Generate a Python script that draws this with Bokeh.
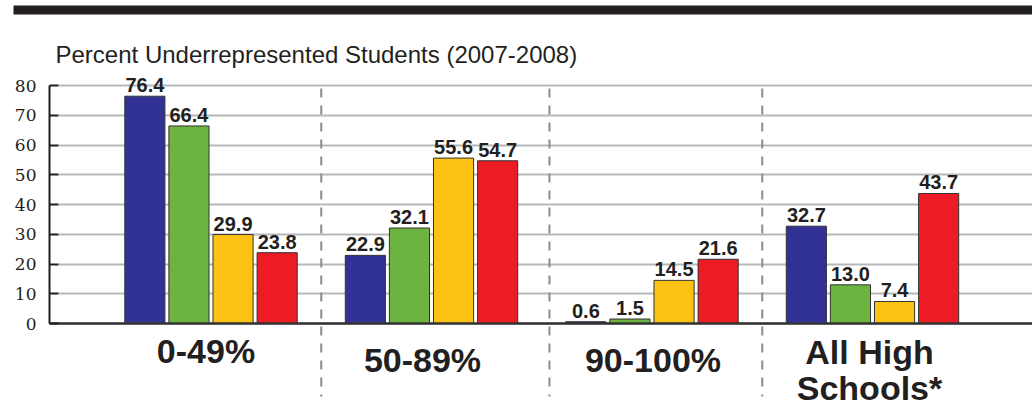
from bokeh.plotting import figure
from bokeh.models import Range1d, BoxAnnotation, Label, ColumnDataSource
from bokeh.transform import dodge
from bokeh.core.properties import value
from bokeh.embed import file_html
from bokeh.resources import INLINE

# ---------------- data ----------------
categories = ["0-49%", "50-89%", "90-100%", "All High\nSchools*"]
series_a = [76.4, 22.9, 0.6, 32.7]
series_b = [66.4, 32.1, 1.5, 13.0]
series_c = [29.9, 55.6, 14.5, 7.4]
series_d = [23.8, 54.7, 21.6, 43.7]
y_ticks = [0, 10, 20, 30, 40, 50, 60, 70, 80]
title_text = "Percent Underrepresented Students (2007-2008)"

# ---------------- layout helpers (picture pixels -> data) ----------------
W, H = 1032, 406
GROUP_PX = 220.5      # pixels per category
GROUP0_X = 210.5      # x of first category centre
ZERO_Y = 323.0        # y of value 0
UNIT_PX = 2.975       # pixels per value unit


def dx(px):
    return (px - GROUP0_X) / GROUP_PX


def dy(py):
    return (ZERO_Y - py) / UNIT_PX


colors = ["#323296", "#6cb33f", "#fcc214", "#ed1c24"]
offsets = [-0.3, -0.1, 0.1, 0.3]
bar_w = 0.182
ink = "#231f20"

series = [series_a, series_b, series_c, series_d]
data = dict(idx=list(range(len(categories))), cat=categories)
for k, s in enumerate(series):
    data[f"s{k}"] = s
    data[f"l{k}"] = [f"{v:.1f}" for v in s]
src = ColumnDataSource(data)

p = figure(width=W, height=H, output_backend="svg", toolbar_location=None,
           x_range=Range1d(dx(0), dx(W)), y_range=Range1d(dy(H), dy(0)),
           x_axis_location=None, y_axis_location="left", min_border=0)
p.outline_line_color = None
p.background_fill_color = "white"
p.border_fill_color = "white"

# y axis drawn at fixed location
ax = p.yaxis[0]
ax.fixed_location = dx(49)
ax.bounds = (0, 80)
ax.ticker = y_ticks
ax.major_tick_in = 9
ax.major_tick_out = 0
ax.minor_tick_line_color = None
ax.axis_line_color = ink
ax.axis_line_width = 2
ax.major_tick_line_color = ink
ax.major_tick_line_width = 2
ax.major_label_text_font = "DejaVu Serif"
ax.major_label_text_font_size = "17px"
ax.major_label_text_color = ink
ax.major_label_standoff = 13

p.xgrid.visible = False
p.ygrid.ticker = y_ticks
p.ygrid.grid_line_color = "#b8b8b8"
p.ygrid.grid_line_width = 2

# white mask so gridlines start after the ticks
p.add_layout(BoxAnnotation(left=dx(0), right=dx(58), top=dy(0), bottom=dy(H),
                           fill_color="white", fill_alpha=1, line_alpha=0, level="underlay"))

# thick rule at top
p.add_layout(BoxAnnotation(left=dx(13), right=dx(W), top=dy(5), bottom=dy(14),
                           fill_color=ink, fill_alpha=1, line_alpha=0, level="underlay"))

# dashed separators
seps = [0.5, 1.535, 2.5]
p.segment(x0=seps, x1=seps, y0=[dy(88)] * 3, y1=[dy(396)] * 3,
          line_color="#8c8c8c", line_width=2, line_dash="9 8")

# bars and value labels
for k in range(4):
    xs = dodge("idx", offsets[k], range=p.x_range)
    p.vbar(x=xs, top=f"s{k}", width=bar_w, source=src,
           fill_color=colors[k], line_color="#333333", line_width=1)
    p.text(x=xs, y=f"s{k}", text=f"l{k}", source=src,
           text_align="center", text_baseline="alphabetic", y_offset=-11,
           text_font=value("Liberation Sans"), text_font_style="bold",
           text_font_size="20px", text_color=ink)

# baseline
p.segment(x0=[dx(49)], x1=[dx(W)], y0=[0], y1=[0], line_color="#333333", line_width=2.5)

# category labels (layout: vertical positions and small horizontal nudges in px)
cat_y = [dy(331), dy(340), dy(340), dy(332)]
cat_nudge = [-5, -9, 1, -3]
src2 = ColumnDataSource(dict(x=list(range(len(categories))), y=cat_y, t=categories, xo=cat_nudge))
p.text(x="x", y="y", text="t", source=src2, x_offset="xo", text_align="center",
       text_baseline="top", text_font=value("Liberation Sans"), text_font_style="bold",
       text_font_size="34px", text_color=ink, text_line_height=0.95)

# title
p.add_layout(Label(x=dx(55), y=dy(54), text=title_text, text_font="Liberation Sans",
                   text_font_size="24px", text_color=ink, text_baseline="alphabetic"))

open("out.html", "w").write(file_html(p, INLINE))
